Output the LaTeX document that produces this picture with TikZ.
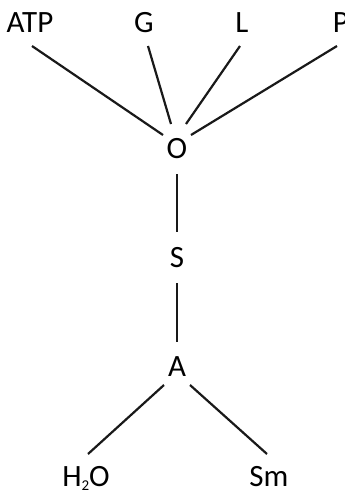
\documentclass[tikz,border=0pt]{standalone}
\usepackage{fontspec}
\setmainfont{Carlito}
\begin{document}
\begin{tikzpicture}[x=1pt,y=-1pt,
  lbl/.style={anchor=base,inner sep=0pt,font=\fontsize{31}{34}\selectfont},
  conn/.style={line width=2.2pt,black!90}]
\useasboundingbox (0,0) rectangle (345,491);
\node[lbl] (ATP) at (30,32) {ATP};
\node[lbl] (G) at (144,32) {G};
\node[lbl] (L) at (242,32) {L};
\node[lbl] (P) at (341,32) {P};
\node[lbl] (O) at (177,158) {O};
\node[lbl] (S) at (177,267) {S};
\node[lbl] (A) at (177,376) {A};
\node[lbl] (H) at (86,486) {H\raisebox{-0.28ex}{\fontsize{15}{15}\selectfont 2}O};
\node[lbl] (Sm) at (269,486) {Sm};
\draw[conn] ([shift={(2,14)}]ATP.base) -- ([shift={(-14,-23)}]O.base);
\draw[conn] ([shift={(4,14)}]G.base) -- ([shift={(-6,-34)}]O.base);
\draw[conn] ([shift={(-2,14)}]L.base) -- ([shift={(9,-34)}]O.base);
\draw[conn] ([shift={(-4,14)}]P.base) -- ([shift={(14,-23)}]O.base);
\draw[conn] ([shift={(0,16)}]O.base) -- ([shift={(0,-35)}]S.base);
\draw[conn] ([shift={(0,16)}]S.base) -- ([shift={(0,-34)}]A.base);
\draw[conn] ([shift={(-13,9)}]A.base) -- ([shift={(2,-32)}]H.base);
\draw[conn] ([shift={(13,9)}]A.base) -- ([shift={(-2,-32)}]Sm.base);
\end{tikzpicture}
\end{document}
